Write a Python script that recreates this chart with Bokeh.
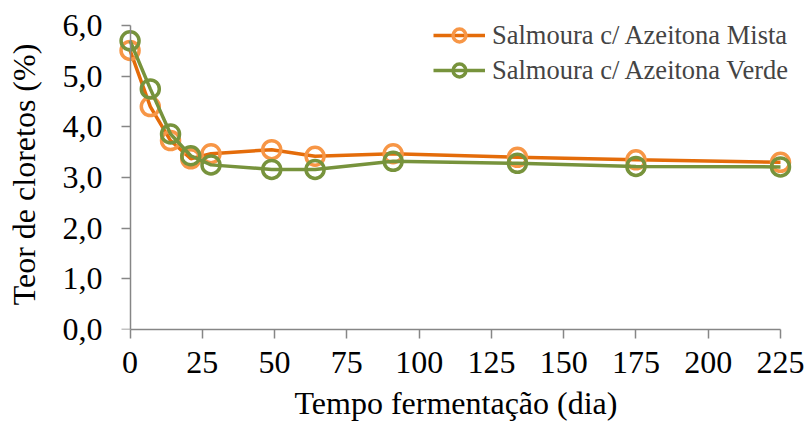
from bokeh.plotting import figure
from bokeh.models import Range1d, FixedTicker, Legend, LegendItem, LinearAxis
from bokeh.embed import file_html
from bokeh.resources import INLINE

# ---- data ----
days = [0, 7, 14, 21, 28, 49, 64, 91, 134, 175, 225]
mista = [5.51, 4.40, 3.73, 3.37, 3.47, 3.55, 3.42, 3.47, 3.40, 3.35, 3.30]
verde = [5.70, 4.75, 3.86, 3.43, 3.25, 3.16, 3.16, 3.32, 3.28, 3.22, 3.21]
series_names = ["Salmoura c/ Azeitona Mista", "Salmoura c/ Azeitona Verde"]
x_ticks = [0, 25, 50, 75, 100, 125, 150, 175, 200, 225]
y_ticks = [0, 1, 2, 3, 4, 5, 6]
y_tick_labels = ["0,0", "1,0", "2,0", "3,0", "4,0", "5,0", "6,0"]
x_title = "Tempo fermentação (dia)"
y_title = "Teor de cloretos (%)"

FONT = "Liberation Serif"
AXIS_COLOR = "#868686"

p = figure(width=807, height=424, output_backend="svg", toolbar_location=None,
           x_range=Range1d(-4, 229.5), y_range=Range1d(0, 6.12),
           min_border_left=118, min_border_right=14,
           min_border_top=19, min_border_bottom=95)
p.outline_line_color = None
p.xgrid.visible = False
p.ygrid.visible = False
p.background_fill_color = "white"
p.border_fill_color = "white"

# orange series
l1 = p.line(days, mista, line_color="#E46C0A", line_width=3.5)
s1 = p.scatter(days, mista, marker="circle", size=18, fill_color=None,
               line_color="#F79646", line_width=3.5)
# green series
l2 = p.line(days, verde, line_color="#77933C", line_width=3.5)
s2 = p.scatter(days, verde, marker="circle", size=18, fill_color=None,
               line_color="#77933C", line_width=3.5)

# x axis
xa = p.xaxis[0]
xa.ticker = FixedTicker(ticks=x_ticks)
xa.bounds = (x_ticks[0], x_ticks[-1])
xa.axis_line_color = AXIS_COLOR
xa.axis_line_width = 1.5
xa.major_tick_line_color = AXIS_COLOR
xa.major_tick_line_width = 1.5
xa.major_tick_in = 0
xa.major_tick_out = 9
xa.major_label_standoff = 13
xa.axis_label = x_title
xa.axis_label_standoff = 9

# y axis: labels and title only (line drawn by a second axis at x=0)
ya = p.yaxis[0]
ya.ticker = FixedTicker(ticks=y_ticks)
ya.bounds = (y_ticks[0], y_ticks[-1])
ya.major_label_overrides = {t: lab for t, lab in zip(y_ticks, y_tick_labels)}
ya.axis_line_color = None
ya.major_tick_line_color = None
ya.major_tick_in = 0
ya.major_tick_out = 0
ya.major_label_standoff = 16
ya.axis_label = y_title
ya.axis_label_standoff = 18

for ax in (xa, ya):
    ax.minor_tick_line_color = None
    ax.major_label_text_font = FONT
    ax.major_label_text_font_size = "32px"
    ax.major_label_text_color = "black"
    ax.axis_label_text_font = FONT
    ax.axis_label_text_font_size = "32px"
    ax.axis_label_text_font_style = "normal"
    ax.axis_label_text_color = "black"

# y axis line with ticks, located at x = 0
yline = LinearAxis(ticker=FixedTicker(ticks=y_ticks), fixed_location=0,
                   bounds=(y_ticks[0], y_ticks[-1]),
                   axis_line_color=AXIS_COLOR, axis_line_width=1.5,
                   major_tick_line_color=AXIS_COLOR, major_tick_line_width=1.5,
                   major_tick_in=9, major_tick_out=0,
                   minor_tick_line_color=None,
                   major_label_overrides={t: "" for t in y_ticks},
                   major_label_standoff=0, axis_label_standoff=0)
p.add_layout(yline, "right")

legend = Legend(items=[
    LegendItem(label=series_names[0], renderers=[l1, s1]),
    LegendItem(label=series_names[1], renderers=[l2, s2]),
], location="top_right")
legend.border_line_color = None
legend.background_fill_alpha = 0
legend.label_text_font = FONT
legend.label_text_font_size = "26.5px"
legend.label_width = 301
legend.glyph_width = 52
legend.glyph_height = 32
legend.label_standoff = 7
legend.spacing = 3
legend.padding = 0
legend.margin = 0
p.add_layout(legend)

open("out.html", "w").write(file_html(p, INLINE))
